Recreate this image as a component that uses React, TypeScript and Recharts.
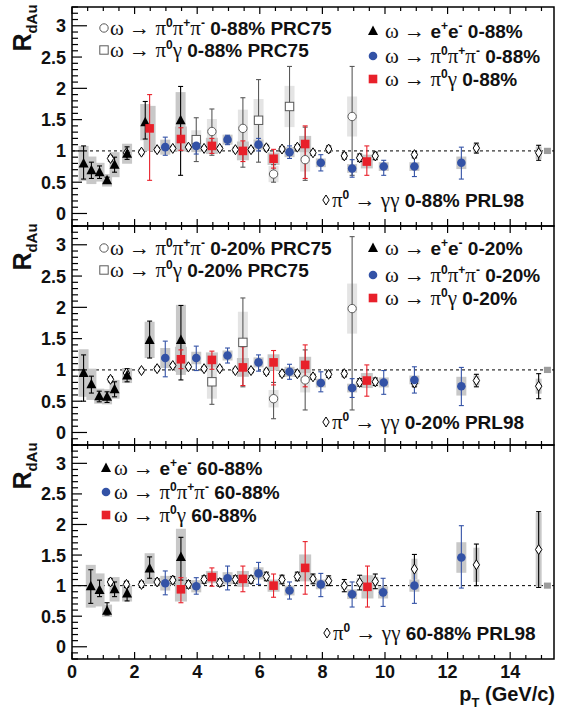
import React from "react";
import {
  ComposedChart,
  Scatter,
  XAxis,
  YAxis,
  ErrorBar,
  ReferenceLine,
  ReferenceArea,
} from "recharts";

// row = [pT, R_dAu, stat low, stat high, syst]
type Row = [number, number, number, number, number];

// ---- 0-88% ----
const EE_MB: Row[] = [
  [0.37, 0.8, 0.25, 0.28, 0.28],
  [0.62, 0.69, 0.13, 0.13, 0.22],
  [0.88, 0.66, 0.1, 0.1, 0.15],
  [1.12, 0.53, 0.05, 0.05, 0.1],
  [1.36, 0.78, 0.12, 0.12, 0.2],
  [1.76, 0.955, 0.09, 0.11, 0.16],
  [2.34, 1.46, 0.27, 0.33, 0.29],
  [3.47, 1.49, 0.88, 0.54, 0.45],
];
const PPP_MB: Row[] = [
  [2.98, 1.06, 0.13, 0.16, 0.12],
  [3.97, 1.08, 0.13, 0.1, 0.1],
  [4.97, 1.18, 0.08, 0.07, 0.08],
  [5.96, 1.1, 0.1, 0.1, 0.08],
  [6.95, 0.98, 0.1, 0.1, 0.08],
  [7.95, 0.81, 0.13, 0.13, 0.07],
  [8.95, 0.72, 0.14, 0.14, 0.07],
  [9.96, 0.75, 0.14, 0.1, 0.07],
  [10.94, 0.75, 0.16, 0.16, 0.07],
  [12.44, 0.81, 0.26, 0.25, 0.1],
];
const PG_MB: Row[] = [
  [2.48, 1.36, 0.83, 0.54, 0.36],
  [3.48, 1.19, 0.18, 0.18, 0.2],
  [4.47, 1.08, 0.12, 0.12, 0.13],
  [5.46, 1.0, 0.17, 0.16, 0.15],
  [6.44, 0.875, 0.15, 0.15, 0.1],
  [7.45, 1.11, 0.55, 0.29, 0.13],
  [9.42, 0.83, 0.22, 0.25, 0.11],
];
const PPP_MB_OLD: Row[] = [
  [4.47, 1.31, 0.38, 0.36, 0.2],
  [5.46, 1.36, 0.62, 0.49, 0.3],
  [6.44, 0.63, 0.13, 0.15, 0.13],
  [7.45, 0.86, 0.33, 0.52, 0.19],
  [8.95, 1.55, 0.94, 0.8, 0.32],
];
const PG_MB_OLD: Row[] = [
  [3.97, 1.18, 0.35, 0.35, 0.15],
  [5.96, 1.49, 0.67, 0.65, 0.34],
  [6.95, 1.71, 0.73, 0.64, 0.33],
];

// pi0 PRL98 pT bins
const PI0_PT = [
  1.23, 1.74, 2.22, 2.72, 3.22, 3.72, 4.22, 4.72, 5.22, 5.72, 6.21, 6.71, 7.2,
  7.7, 8.2, 8.7, 9.19, 9.69, 10.94, 12.92, 14.91,
];
const PI0_MB_R = [
  0.88, 0.97, 0.98, 1.02, 1.04, 1.06, 1.04, 1.04, 1.02, 1.02, 1.05, 1.03, 1.06,
  0.97, 1.03, 0.92, 0.89, 0.92, 0.94, 1.045, 0.97,
];
const PI0_MB_STAT = [
  0.04, 0.03, 0.03, 0.03, 0.03, 0.03, 0.03, 0.03, 0.03, 0.03, 0.04, 0.04, 0.04,
  0.04, 0.05, 0.05, 0.06, 0.06, 0.05, 0.08, 0.12,
];
const PI0_MB_SYS = [
  0.05, 0.05, 0.05, 0.05, 0.05, 0.05, 0.05, 0.05, 0.05, 0.05, 0.05, 0.05, 0.05,
  0.05, 0.05, 0.05, 0.05, 0.05, 0.06, 0.07, 0.1,
];

// ---- 0-20% ----
const EE_C: Row[] = [
  [0.37, 0.95, 0.45, 0.29, 0.38],
  [0.62, 0.77, 0.14, 0.13, 0.25],
  [0.87, 0.58, 0.09, 0.08, 0.12],
  [1.12, 0.57, 0.09, 0.08, 0.12],
  [1.36, 0.69, 0.12, 0.12, 0.15],
  [1.76, 0.91, 0.1, 0.11, 0.12],
  [2.48, 1.48, 0.29, 0.3, 0.29],
  [3.48, 1.48, 0.64, 0.55, 0.56],
];
const PPP_C: Row[] = [
  [2.98, 1.19, 0.3, 0.27, 0.16],
  [3.97, 1.19, 0.2, 0.19, 0.1],
  [4.97, 1.23, 0.12, 0.12, 0.08],
  [5.96, 1.12, 0.14, 0.12, 0.08],
  [6.95, 0.97, 0.12, 0.12, 0.08],
  [7.95, 0.79, 0.14, 0.18, 0.07],
  [8.95, 0.71, 0.15, 0.15, 0.07],
  [9.96, 0.8, 0.19, 0.19, 0.08],
  [10.94, 0.84, 0.21, 0.21, 0.07],
  [12.44, 0.74, 0.31, 0.3, 0.15],
];
const PG_C: Row[] = [
  [3.48, 1.17, 0.15, 0.15, 0.2],
  [4.47, 1.16, 0.15, 0.14, 0.12],
  [5.46, 1.04, 0.29, 0.33, 0.15],
  [6.44, 1.12, 0.36, 0.19, 0.13],
  [7.45, 1.08, 0.35, 0.32, 0.13],
  [9.42, 0.83, 0.25, 0.25, 0.12],
];
const PPP_C_OLD: Row[] = [
  [6.44, 0.54, 0.32, 0.26, 0.14],
  [7.45, 0.84, 0.48, 0.48, 0.2],
  [8.95, 1.98, 1.62, 1.15, 0.4],
];
const PG_C_OLD: Row[] = [
  [4.47, 0.81, 0.36, 0.38, 0.27],
  [5.46, 1.44, 0.71, 0.71, 0.49],
];
const PI0_C_R = [
  0.85, 0.95, 0.99, 1.02, 1.07, 1.05, 1.02, 1.02, 0.99, 0.99, 0.97, 0.94, 0.94,
  0.89, 0.93, 0.94, 0.8, 0.81, 0.79, 0.83, 0.74,
];
const PI0_C_STAT = [
  0.04, 0.03, 0.03, 0.03, 0.03, 0.03, 0.03, 0.03, 0.03, 0.03, 0.04, 0.04, 0.04,
  0.04, 0.05, 0.05, 0.06, 0.06, 0.06, 0.1, 0.2,
];
const PI0_C_SYS = [
  0.05, 0.05, 0.05, 0.05, 0.05, 0.05, 0.05, 0.05, 0.05, 0.05, 0.05, 0.05, 0.05,
  0.05, 0.05, 0.05, 0.05, 0.05, 0.06, 0.08, 0.12,
];

// ---- 60-88% ----
const EE_P: Row[] = [
  [0.6, 0.99, 0.28, 0.27, 0.35],
  [0.88, 0.93, 0.11, 0.16, 0.27],
  [1.12, 0.59, 0.07, 0.13, 0.1],
  [1.36, 0.94, 0.12, 0.12, 0.2],
  [1.76, 0.87, 0.12, 0.12, 0.13],
  [2.48, 1.28, 0.16, 0.19, 0.25],
  [3.48, 1.47, 0.38, 0.32, 0.46],
];
const PPP_P: Row[] = [
  [2.98, 1.04, 0.19, 0.2, 0.12],
  [3.97, 0.99, 0.13, 0.14, 0.1],
  [4.97, 1.12, 0.19, 0.2, 0.1],
  [5.96, 1.2, 0.18, 0.18, 0.1],
  [6.95, 0.92, 0.14, 0.14, 0.08],
  [7.95, 1.02, 0.2, 0.18, 0.08],
  [8.95, 0.86, 0.21, 0.2, 0.08],
  [9.94, 0.89, 0.23, 0.23, 0.1],
  [10.94, 1.0, 0.29, 0.28, 0.1],
  [12.44, 1.46, 0.5, 0.52, 0.25],
];
const PG_P: Row[] = [
  [3.48, 0.94, 0.22, 0.19, 0.2],
  [4.47, 1.14, 0.15, 0.15, 0.1],
  [5.46, 1.11, 0.21, 0.21, 0.13],
  [6.44, 1.0, 0.19, 0.19, 0.1],
  [7.45, 1.29, 0.43, 0.43, 0.22],
  [9.44, 0.98, 0.33, 0.34, 0.19],
];
const PI0_P_R = [
  1.06, 1.02, 1.02, 1.06, 1.09, 1.02, 1.1, 1.05, 1.1, 1.1, 1.15, 1.1, 1.15,
  1.11, 1.08, 1.0, 1.05, 1.07, 1.27, 1.34, 1.59,
];
const PI0_P_STAT = [
  0.05, 0.05, 0.05, 0.05, 0.06, 0.06, 0.06, 0.06, 0.06, 0.06, 0.07, 0.07, 0.07,
  0.08, 0.08, 0.1, 0.12, 0.12, 0.24, 0.34, 0.62,
];
const PI0_P_SYS = [
  0.06, 0.06, 0.06, 0.06, 0.06, 0.06, 0.06, 0.06, 0.06, 0.06, 0.06, 0.06, 0.06,
  0.06, 0.06, 0.06, 0.07, 0.07, 0.17, 0.28, 0.6,
];

// global normalisation box at R = 1
const NORM: Row[] = [[15.19, 1, 0, 0, 0.05]];

const X_MAX = 15.4;
const Y_MIN = -0.2;
const Y_MAX = 3.3;
const X_LABELS = [0, 2, 4, 6, 8, 10, 12, 14];
const Y_LABELS = [0, 0.5, 1, 1.5, 2, 2.5, 3];
const X_TICKS = Array.from({ length: 31 }, (_, i) => i * 0.5);
const Y_TICKS = Array.from({ length: 36 }, (_, i) => (i - 2) / 10);

const SANS = "'Liberation Sans', Arial, Helvetica, sans-serif";
const SERIF = "'Liberation Serif', 'Times New Roman', serif";
const BLUE = "#3352a6";
const RED = "#e8202a";
const DARK_BOX = "#c8c8c8";
const LIGHT_BOX = "#e4e4e4";
const OLD = "#5a5a5a";

const pi0Rows = (r: number[], st: number[], sy: number[]): Row[] =>
  PI0_PT.map((x, i) => [x, r[i], st[i], st[i], sy[i]]);

const toData = (rows: Row[]) =>
  rows.map(([x, y, lo, hi, s]) => ({ x, y, stat: [lo, hi], sys: s }));

type Mark = (cx: number, cy: number) => React.ReactElement;

const tri: Mark = (cx, cy) => (
  <polygon points={`${cx},${cy - 5.5} ${cx - 5},${cy + 4} ${cx + 5},${cy + 4}`} fill="#000" />
);
const dot: Mark = (cx, cy) => <circle cx={cx} cy={cy} r={4.3} fill={BLUE} />;
const sq: Mark = (cx, cy) => (
  <rect x={cx - 4.3} y={cy - 4.3} width={8.6} height={8.6} fill={RED} />
);
const ring: Mark = (cx, cy) => (
  <circle cx={cx} cy={cy} r={4.2} fill="#fff" stroke={OLD} strokeWidth={1} />
);
const osq: Mark = (cx, cy) => (
  <rect x={cx - 4.2} y={cy - 4.2} width={8.4} height={8.4} fill="#fff" stroke={OLD} strokeWidth={1} />
);
const dia: Mark = (cx, cy) => (
  <polygon
    points={`${cx},${cy - 5} ${cx + 3.2},${cy} ${cx},${cy + 5} ${cx - 3.2},${cy}`}
    fill="#fff"
    stroke="#000"
    strokeWidth={1}
  />
);
const none: Mark = () => <g />;

type Spec = { rows: Row[]; mark: Mark; bar: string; box: string; boxW: number };

const yTick = (p: any) => {
  const v = p.payload.value as number;
  const r = Math.round(v * 10);
  const len = r % 10 === 0 ? 15 : r % 5 === 0 ? 10 : 6;
  const lab = Y_LABELS.some((l) => Math.abs(l - v) < 1e-6);
  return (
    <g>
      <line x1={p.x} x2={p.x + len} y1={p.y} y2={p.y} stroke="#000" strokeWidth={1.2} />
      {lab && (
        <text
          x={p.x - 6}
          y={p.y + 6.5}
          textAnchor="end"
          fontFamily={SANS}
          fontWeight={700}
          fontSize={18}
          fill="#111"
        >
          {String(v)}
        </text>
      )}
    </g>
  );
};

const xTick = (side: "b" | "t", labels: boolean) => (p: any) => {
  const v = p.payload.value as number;
  const major = X_LABELS.some((l) => Math.abs(l - v) < 1e-6);
  const len = major ? 7 : 4;
  const d = side === "b" ? -1 : 1;
  return (
    <g>
      <line x1={p.x} x2={p.x} y1={p.y} y2={p.y + d * len} stroke="#000" strokeWidth={1.2} />
      {labels && major && (
        <text
          x={p.x}
          y={p.y + 19}
          textAnchor="middle"
          fontFamily={SANS}
          fontWeight={700}
          fontSize={18}
          fill="#111"
        >
          {String(v)}
        </text>
      )}
    </g>
  );
};

function Panel({ top, plotH, specs, xLabels }: { top: number; plotH: number; specs: Spec[]; xLabels: boolean }) {
  const mTop = 3;
  const mBot = xLabels ? 52 : 3;
  const boxes = [...specs.filter((s) => s.box === LIGHT_BOX), ...specs.filter((s) => s.box !== LIGHT_BOX)];
  return (
    <div style={{ position: "absolute", left: 0, top: top - mTop - 1 }}>
      <ComposedChart width={564} height={plotH + mTop + mBot + 2} margin={{ top: mTop, right: 10, bottom: mBot, left: 0 }}>
        <XAxis
          xAxisId="b"
          type="number"
          dataKey="x"
          domain={[0, X_MAX]}
          ticks={X_TICKS}
          interval={0}
          allowDataOverflow
          height={1}
          tickSize={0}
          tickMargin={0}
          tickLine={false}
          axisLine={false}
          tick={xTick("b", xLabels)}
        />
        <XAxis
          xAxisId="t"
          orientation="top"
          type="number"
          dataKey="x"
          domain={[0, X_MAX]}
          ticks={X_TICKS}
          interval={0}
          allowDataOverflow
          height={1}
          tickSize={0}
          tickMargin={0}
          tickLine={false}
          axisLine={false}
          tick={xTick("t", false)}
        />
        <YAxis
          type="number"
          dataKey="y"
          domain={[Y_MIN, Y_MAX]}
          ticks={Y_TICKS}
          interval={0}
          allowDataOverflow
          width={72}
          tickSize={0}
          tickMargin={0}
          tickLine={false}
          axisLine={false}
          tick={yTick}
        />
        <ReferenceLine xAxisId="b" y={1} stroke="#000" strokeWidth={1} strokeDasharray="3 3" />
        {boxes.map((s, i) => (
          <Scatter key={`b${i}`} xAxisId="b" data={toData(s.rows)} dataKey="y" shape={() => none(0, 0)} isAnimationActive={false}>
            <ErrorBar dataKey="sys" direction="y" width={0} stroke={s.box} strokeWidth={s.boxW} isAnimationActive={false} />
          </Scatter>
        ))}
        {specs.map((s, i) => (
          <Scatter
            key={`m${i}`}
            xAxisId="b"
            data={toData(s.rows)}
            dataKey="y"
            shape={(p: any) => s.mark(p.cx, p.cy)}
            isAnimationActive={false}
          >
            <ErrorBar dataKey="stat" direction="y" width={2.5} stroke={s.bar} strokeWidth={1.1} isAnimationActive={false} />
          </Scatter>
        ))}
        <ReferenceArea xAxisId="b" x1={0} x2={X_MAX} y1={Y_MIN} y2={Y_MAX} fill="none" fillOpacity={0} stroke="#000" strokeWidth={1.5} />
      </ComposedChart>
    </div>
  );
}

const specsFor = (ee: Row[], ppp: Row[], pg: Row[], pi0: Row[], pppOld: Row[], pgOld: Row[]): Spec[] => [
  { rows: pppOld, mark: ring, bar: OLD, box: LIGHT_BOX, boxW: 10 },
  { rows: pgOld, mark: osq, bar: OLD, box: LIGHT_BOX, boxW: 10 },
  { rows: NORM, mark: none, bar: "none", box: "#9c9c9c", boxW: 7 },
  { rows: pi0, mark: dia, bar: "#000", box: DARK_BOX, boxW: 6 },
  { rows: ee, mark: tri, bar: "#000", box: DARK_BOX, boxW: 10 },
  { rows: ppp, mark: dot, bar: BLUE, box: DARK_BOX, boxW: 10 },
  { rows: pg, mark: sq, bar: RED, box: DARK_BOX, boxW: 12 },
];

// ---- text helpers ----
const Gk = ({ c }: { c: string }) => (
  <span style={{ fontFamily: SERIF, fontWeight: 400, fontSize: 21 }}>{c}</span>
);
const Up = ({ c }: { c: string }) => (
  <span style={{ fontSize: 12, position: "relative", top: -8 }}>{c}</span>
);
const omegaTo = (
  <>
    <Gk c="ω" /> <Gk c="→" />{" "}
  </>
);
const PPP = (
  <>
    <Gk c="π" />
    <Up c="0" />
    <Gk c="π" />
    <Up c="+" />
    <Gk c="π" />
    <Up c="-" />
  </>
);
const PG = (
  <>
    <Gk c="π" />
    <Up c="0" />
    <Gk c="γ" />
  </>
);
const EE = (
  <>
    e<Up c="+" />e<Up c="-" />
  </>
);

function Entry({ mx, tx, y, mark, children }: { mx: number; tx: number; y: number; mark: Mark; children: React.ReactNode }) {
  return (
    <>
      <svg width={14} height={14} style={{ position: "absolute", left: mx - 7, top: y - 7 }}>
        {mark(7, 7)}
      </svg>
      <div
        style={{
          position: "absolute",
          left: tx,
          top: y - 12,
          height: 24,
          lineHeight: "24px",
          whiteSpace: "nowrap",
          fontFamily: SANS,
          fontWeight: 700,
          fontSize: 19,
          color: "#111",
        }}
      >
        {children}
      </div>
    </>
  );
}

function Pi0Label({ x, y, cent }: { x: number; y: number; cent: string }) {
  return (
    <Entry mx={x + 4} tx={x + 10} y={y} mark={dia}>
      <Gk c="π" />
      <Up c="0" /> <Gk c="→" /> <Gk c="γγ" /> {cent} PRL98
    </Entry>
  );
}

function RLabel({ top }: { top: number }) {
  return (
    <div
      style={{
        position: "absolute",
        left: 24,
        top: top + 21,
        transform: "translate(-50%, -50%) rotate(-90deg)",
        whiteSpace: "nowrap",
        fontFamily: SANS,
        fontWeight: 700,
        fontSize: 25,
        lineHeight: "26px",
        color: "#111",
      }}
    >
      R<span style={{ fontSize: 15, position: "relative", top: 6 }}>dAu</span>
    </div>
  );
}

export default function App() {
  const p1 = 7;
  const p2 = 226;
  const p3 = 445;
  return (
    <div style={{ position: "absolute", left: 0, top: 0, width: 564, height: 712, background: "#fff", overflow: "hidden" }}>
      <Panel top={p1} plotH={219} xLabels={false} specs={specsFor(EE_MB, PPP_MB, PG_MB, pi0Rows(PI0_MB_R, PI0_MB_STAT, PI0_MB_SYS), PPP_MB_OLD, PG_MB_OLD)} />
      <Panel top={p2} plotH={219} xLabels={false} specs={specsFor(EE_C, PPP_C, PG_C, pi0Rows(PI0_C_R, PI0_C_STAT, PI0_C_SYS), PPP_C_OLD, PG_C_OLD)} />
      <Panel top={p3} plotH={214} xLabels specs={specsFor(EE_P, PPP_P, PG_P, pi0Rows(PI0_P_R, PI0_P_STAT, PI0_P_SYS), [], [])} />

      <RLabel top={p1} />
      <RLabel top={p2} />
      <RLabel top={p3} />

      {/* panel 1 */}
      <Entry mx={104} tx={110} y={p1 + 21} mark={ring}>
        {omegaTo}
        {PPP} 0-88% PRC75
      </Entry>
      <Entry mx={104} tx={110} y={p1 + 43} mark={osq}>
        {omegaTo}
        {PG} 0-88% PRC75
      </Entry>
      <Entry mx={373} tx={385} y={p1 + 24} mark={tri}>
        {omegaTo}
        {EE} 0-88%
      </Entry>
      <Entry mx={373} tx={385} y={p1 + 49} mark={dot}>
        {omegaTo}
        {PPP} 0-88%
      </Entry>
      <Entry mx={373} tx={385} y={p1 + 72} mark={sq}>
        {omegaTo}
        {PG} 0-88%
      </Entry>
      <Pi0Label x={322} y={p1 + 193} cent="0-88%" />

      {/* panel 2 */}
      <Entry mx={104} tx={110} y={p2 + 22} mark={ring}>
        {omegaTo}
        {PPP} 0-20% PRC75
      </Entry>
      <Entry mx={104} tx={110} y={p2 + 44} mark={osq}>
        {omegaTo}
        {PG} 0-20% PRC75
      </Entry>
      <Entry mx={373} tx={385} y={p2 + 22} mark={tri}>
        {omegaTo}
        {EE} 0-20%
      </Entry>
      <Entry mx={373} tx={385} y={p2 + 49} mark={dot}>
        {omegaTo}
        {PPP} 0-20%
      </Entry>
      <Entry mx={373} tx={385} y={p2 + 72} mark={sq}>
        {omegaTo}
        {PG} 0-20%
      </Entry>
      <Pi0Label x={322} y={p2 + 196} cent="0-20%" />

      {/* panel 3 */}
      <Entry mx={106} tx={114} y={p3 + 23} mark={tri}>
        {omegaTo}
        {EE} 60-88%
      </Entry>
      <Entry mx={106} tx={114} y={p3 + 47} mark={dot}>
        {omegaTo}
        {PPP} 60-88%
      </Entry>
      <Entry mx={106} tx={114} y={p3 + 70} mark={sq}>
        {omegaTo}
        {PG} 60-88%
      </Entry>
      <Pi0Label x={323} y={p3 + 188} cent="60-88%" />

      <div
        style={{
          position: "absolute",
          right: 9,
          top: 684,
          height: 20,
          whiteSpace: "nowrap",
          fontFamily: SANS,
          fontWeight: 700,
          fontSize: 20,
          lineHeight: "20px",
          color: "#111",
        }}
      >
        p<span style={{ fontSize: 13, position: "relative", top: 6 }}>T</span> (GeV/c)
      </div>
    </div>
  );
}
